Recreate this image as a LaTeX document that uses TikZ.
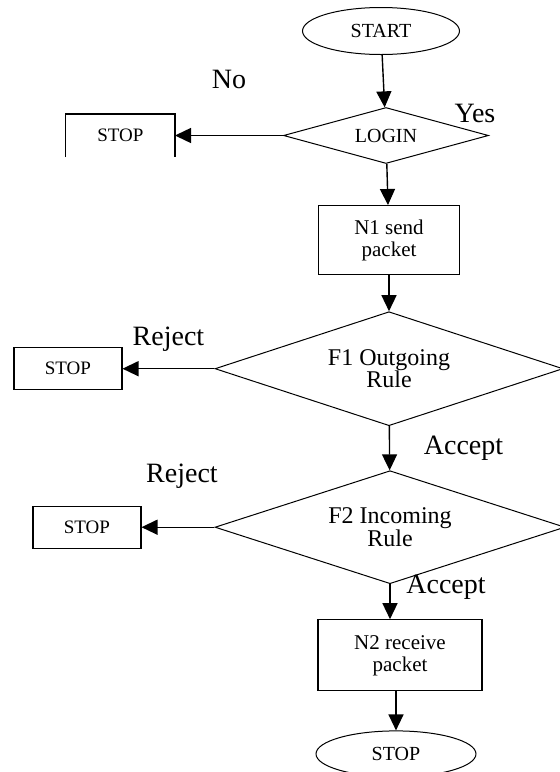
\documentclass[tikz,border=0pt]{standalone}
\usepackage{fontspec}
\setmainfont{Liberation Serif}
\usetikzlibrary{arrows.meta,positioning,shapes.geometric}

\begin{document}
\begin{tikzpicture}[
      term/.style={draw,ellipse,line width=1pt,minimum width=157pt,minimum height=47pt,inner sep=0pt,font=\fontsize{20}{22}\selectfont},
      proc/.style={draw,rectangle,line width=1.2pt,align=center,inner sep=0pt,font=\fontsize{21}{22}\selectfont},
      decide/.style={draw,diamond,line width=1pt,aspect=3,inner sep=0pt,align=center,font=\fontsize{24}{21}\selectfont},
      stopbox/.style={rectangle,line width=1.2pt,minimum width=108pt,minimum height=42pt,inner sep=0pt,font=\fontsize{19}{20}\selectfont},
      arr/.style={-{Triangle[length=16pt,width=15pt]},line width=1.4pt},
      lbl/.style={font=\fontsize{28}{30}\selectfont,inner sep=0pt}
    ]
    \path[use as bounding box] (0,0) rectangle (560pt,-772pt);
    \node[term] (start) at (381pt,-31pt) {START};
    \node[decide,minimum width=205pt,minimum height=56pt,font=\fontsize{20}{22}\selectfont,below=52pt of start,xshift=5pt] (login) {LOGIN};
    \node[stopbox,left=108pt of login] (stopA) {STOP};
    \node[proc,minimum width=141pt,minimum height=69pt,below=41pt of login,xshift=3pt] (send) {N1 send\\packet};
    \node[decide,minimum width=348pt,minimum height=114pt,below=36pt of send] (outrule) {F1 Outgoing\\Rule};
    \node[stopbox,draw,left=92pt of outrule] (stopB) {STOP};
    \node[decide,minimum width=350pt,minimum height=113pt,below=44pt of outrule,xshift=1pt] (inrule) {F2 Incoming\\Rule};
    \node[stopbox,draw,left=73pt of inrule] (stopC) {STOP};
    \node[proc,minimum width=164pt,minimum height=71pt,below=35pt of inrule,xshift=10pt] (recv) {N2 receive\\packet};
    \node[term,minimum width=160pt,minimum height=46pt,below=39pt of recv,xshift=-4pt] (stop) {STOP};
    \node[lbl] (yes) at ([xshift=-14pt,yshift=22pt]login.east) {Yes};

    % first STOP box is open at the bottom
    \draw[line width=1.2pt] (stopA.south west) -- (stopA.north west) -- (stopA.north east) -- (stopA.south east);

    \draw[arr] (start) -- (login);
    \draw[arr] (login) -- node[lbl,midway,yshift=56pt]{No} (stopA);
    \draw[arr] (login) -- (send);
    \draw[arr] (send) -- (outrule);
    \draw[arr] (outrule) -- node[lbl,midway,yshift=29pt]{Reject} (stopB);
    \draw[arr] (outrule) -- node[lbl,midway,xshift=74pt]{Accept} (inrule);
    \draw[arr] (inrule) -- node[lbl,midway,xshift=4pt,yshift=51pt]{Reject} (stopC);
    \draw[arr] (inrule.south) -- node[lbl,midway,xshift=56pt,yshift=14pt]{Accept} (inrule.south |- recv.north);
    \draw[arr] (recv.south -| stop.north) -- (stop.north);
  \end{tikzpicture}
\end{document}
